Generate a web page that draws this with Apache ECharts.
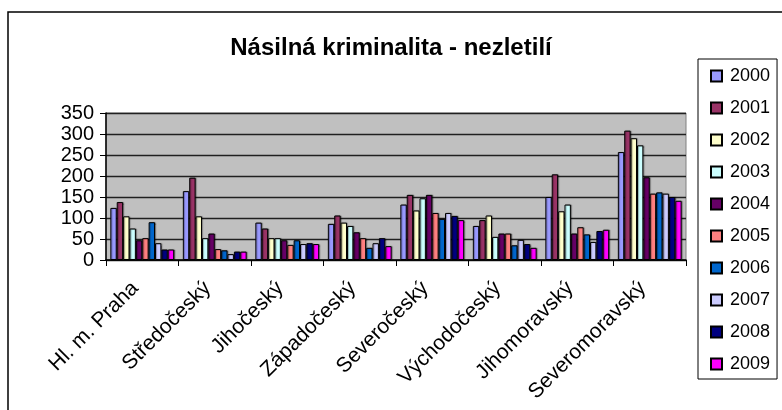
<!DOCTYPE html>
<html>
<head>
<meta charset="utf-8">
<style>
  html, body { margin: 0; padding: 0; background: #fff; }
  #chart { width: 782px; height: 410px; }
</style>
<script src="https://cdn.jsdelivr.net/npm/echarts@6/dist/echarts.min.js"></script>
</head>
<body>
<div id="chart"></div>
<script>
// kraje
const regions = ['Hl. m. Praha', 'Středočeský', 'Jihočeský', 'Západočeský', 'Severočeský', 'Východočeský', 'Jihomoravský', 'Severomoravský']
const years = ['2000', '2001', '2002', '2003', '2004', '2005', '2006', '2007', '2008', '2009']
const yTicks = [0, 50, 100, 150, 200, 250, 300, 350]

// hodnoty po rocích
const v2000 = [124, 164, 89, 86, 132, 81, 150, 257]
const v2001 = [138, 196, 75, 106, 155, 95, 204, 308]
const v2002 = [104, 104, 52, 89, 118, 106, 116, 290]
const v2003 = [75, 52, 52, 81, 147, 55, 132, 273]
const v2004 = [47, 63, 47, 66, 155, 63, 63, 197]
const v2005 = [52, 26, 36, 52, 112, 63, 78, 158]
const v2006 = [90, 23, 47, 29, 98, 35, 61, 161]
const v2007 = [40, 14, 38, 40, 112, 48, 43, 158]
const v2008 = [25, 20, 40, 52, 105, 38, 69, 150]
const v2009 = [25, 20, 38, 33, 95, 29, 72, 141]
const values = [v2000, v2001, v2002, v2003, v2004, v2005, v2006, v2007, v2008, v2009]

const colors = ['#9999FF', '#993366', '#FFFFCC', '#CCFFFF', '#660066', '#FF8080', '#0066CC', '#CCCCFF', '#000080', '#FF00FF']
const font = '"Liberation Sans", Arial, sans-serif'

const chart = echarts.init(document.getElementById('chart'))

const option = {
  animation: false,
  color: colors,
  textStyle: { fontFamily: font, color: '#000' },
  title: {
    text: 'Násilná kriminalita - nezletilí',
    left: 'center',
    top: 31,
    textStyle: { fontFamily: font, fontSize: 24, fontWeight: 'bold', color: '#000' }
  },
  legend: {
    orient: 'vertical',
    left: 698,
    top: 59,
    padding: [8, 7, 6, 12],
    itemWidth: 11,
    itemHeight: 11,
    itemGap: 14,
    backgroundColor: '#fff',
    borderColor: '#000',
    borderWidth: 1,
    borderRadius: 0,
    icon: 'rect',
    textStyle: { fontFamily: font, fontSize: 18, lineHeight: 18, color: '#000', padding: [0, 0, 0, 3] },
    data: years
  },
  grid: {
    left: 106,
    right: 96,
    top: 113,
    bottom: 150,
    show: true,
    backgroundColor: '#C0C0C0',
    borderColor: '#808080',
    borderWidth: 1
  },
  xAxis: {
    type: 'category',
    data: regions,
    boundaryGap: true,
    axisLine: { lineStyle: { color: '#000', width: 1.5 } },
    axisTick: { show: true, length: 6, interval: 0, lineStyle: { color: '#000' } },
    axisLabel: {
      interval: 0,
      rotate: 45,
      margin: 18,
      padding: [0, 10, 0, 0],
      fontFamily: font,
      fontSize: 21,
      color: '#000'
    },
    splitLine: { show: false }
  },
  yAxis: {
    type: 'value',
    min: yTicks[0],
    max: yTicks[yTicks.length - 1],
    interval: 50,
    axisLine: { show: true, lineStyle: { color: '#000', width: 1.5 } },
    axisTick: { show: true, length: 6, lineStyle: { color: '#000' } },
    axisLabel: { margin: 12, fontFamily: font, fontSize: 20, color: '#000' },
    splitLine: { show: true, lineStyle: { color: '#202020', width: 1.3 } }
  },
  graphic: [{
    type: 'rect',
    z: -10,
    shape: { x: 8, y: 12, width: 800, height: 420 },
    style: { fill: null, stroke: '#000', lineWidth: 1.5 }
  }],
  series: years.map((y, i) => ({
    name: y,
    type: 'bar',
    data: values[i],
    barGap: '0%',
    barCategoryGap: '12%',
    itemStyle: {
      borderColor: '#000',
      borderWidth: 1,
      shadowColor: 'rgba(0,0,0,0.35)',
      shadowOffsetX: 1,
      shadowOffsetY: 0,
      shadowBlur: 1
    }
  }))
}

chart.setOption(option)
window.addEventListener('resize', () => {
  chart.resize()
})
</script>
</body>
</html>
